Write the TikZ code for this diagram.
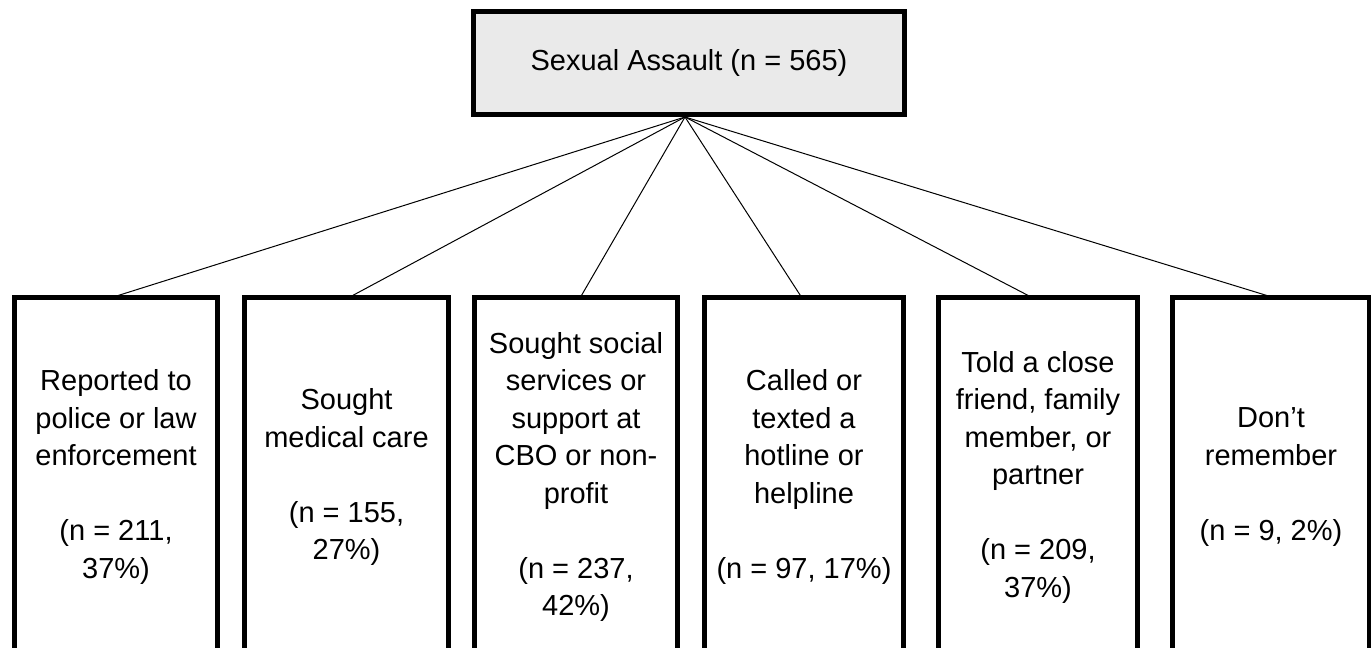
\documentclass[tikz,border=0pt]{standalone}
\usepackage{fontspec}
\setmainfont{Liberation Sans}
\begin{document}
\begin{tikzpicture}[x=1pt,y=-1pt,
  topbox/.style={draw=black, line width=5pt, fill=topgray, minimum width=431pt, minimum height=103pt, inner sep=0pt, font=\fontsize{29}{37.5}\selectfont},
  leafbox/.style={draw=black, line width=5pt, fill=white, minimum height=359pt, inner sep=0pt, align=center, font=\fontsize{29}{37.5}\selectfont},
  link/.style={draw=black, line width=1pt}]
\definecolor{topgray}{HTML}{EAEAEA}
\useasboundingbox (0,0) rectangle (1371,648);
\clip (0,0) rectangle (1371,648);
\fill[white] (0,0) rectangle (1371,648);

\node[topbox] (top) at (689,63) {Sexual Assault (n = 565)};

\node[leafbox, minimum width=203pt] (b1) at (116,477) {Reported to\\police or law\\enforcement\\[37.5pt](n = 211,\\37\%)};
\node[leafbox, minimum width=204pt] (b2) at (346.5,477) {Sought\\medical care\\[37.5pt](n = 155,\\27\%)};
\node[leafbox, minimum width=203pt] (b3) at (576,477) {Sought social\\services or\\support at\\CBO or non-\\profit\\[37.5pt](n = 237,\\42\%)};
\node[leafbox, minimum width=199pt] (b4) at (804,477) {Called or\\texted a\\hotline or\\helpline\\[37.5pt](n = 97, 17\%)};
\node[leafbox, minimum width=199pt] (b5) at (1038,477) {Told a close\\friend, family\\member, or\\partner\\[37.5pt](n = 209,\\37\%)};
\node[leafbox, minimum width=197pt] (b6) at (1271,477) {Don’t\\remember\\[37.5pt](n = 9, 2\%)};

\draw[link] ([xshift=-4pt]top.south) -- ([xshift=-9pt,yshift=-4pt]b1.north);
\draw[link] ([xshift=-4pt]top.south) -- ([xshift=1.5pt,yshift=-3pt]b2.north);
\draw[link] ([xshift=-4pt]top.south) -- ([xshift=4pt,yshift=-3pt]b3.north);
\draw[link] ([xshift=-4pt]top.south) -- ([xshift=-2pt,yshift=-3pt]b4.north);
\draw[link] ([xshift=-4pt]top.south) -- ([xshift=-5pt,yshift=-3pt]b5.north);
\draw[link] ([xshift=-4pt]top.south) -- ([xshift=4pt,yshift=-3pt]b6.north);
\end{tikzpicture}
\end{document}
